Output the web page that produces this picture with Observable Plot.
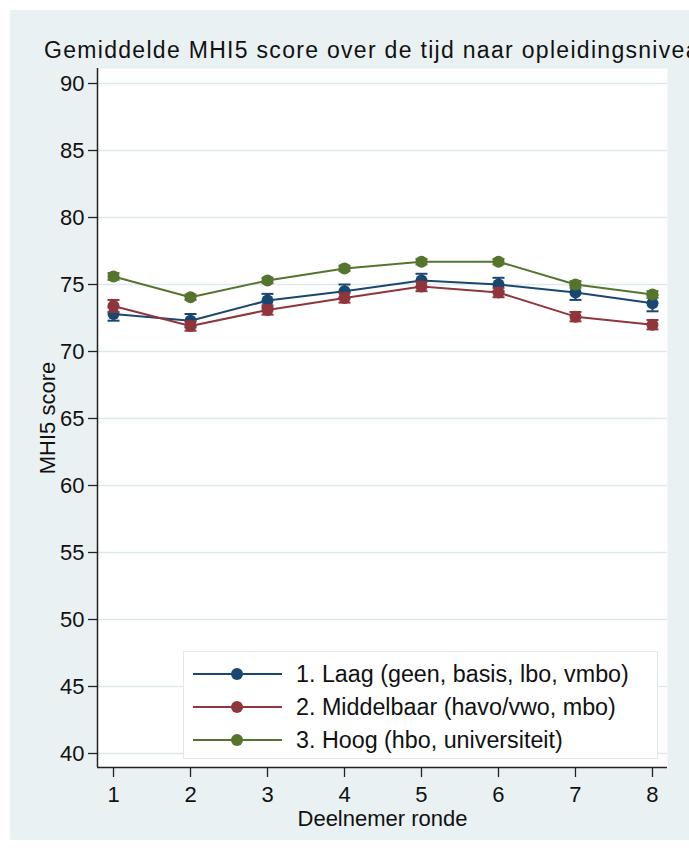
<!DOCTYPE html>
<html><head><meta charset="utf-8">
<script src="https://cdn.jsdelivr.net/npm/d3@7"></script>
<script src="https://cdn.jsdelivr.net/npm/@observablehq/plot@0.6"></script>
<style>
body{margin:0;background:#fff;width:689px;height:852px;overflow:hidden;font-family:"Liberation Sans",Arial,sans-serif;}
#panel{position:absolute;left:10px;top:10px;width:679px;height:830px;background:#eaf1f3;overflow:hidden;}
#title{position:absolute;left:34px;top:27px;font-size:23px;letter-spacing:1.3px;white-space:nowrap;color:#111;}
#chart{position:absolute;left:0;top:50px;}
#legend{position:absolute;left:173px;top:641px;width:473px;height:106px;background:#fff;border:1px solid #e1e9ec;}
.row{position:absolute;left:0;height:30px;display:flex;align-items:center;font-size:23.3px;color:#111;white-space:nowrap;}
.row svg{margin-left:9px;margin-right:14px;}
</style></head>
<body>
<div id="panel">
  <div id="title">Gemiddelde MHI5 score over de tijd naar opleidingsniveau</div>
  <div id="chart"></div>
  <div id="legend"></div>
</div>
<script>
const rounds = [1, 2, 3, 4, 5, 6, 7, 8];
const groups = ["1. Laag (geen, basis, lbo, vmbo)", "2. Middelbaar (havo/vwo, mbo)", "3. Hoog (hbo, universiteit)"];
const colors = ["#1a476f", "#90353b", "#55752f"];
const laag = [72.8, 72.3, 73.8, 74.5, 75.3, 75.0, 74.4, 73.6];
const laagErr = [0.5, 0.5, 0.5, 0.5, 0.5, 0.5, 0.55, 0.6];
const middel = [73.4, 71.9, 73.1, 74.0, 74.85, 74.4, 72.6, 72.0];
const middelErr = [0.45, 0.35, 0.35, 0.35, 0.35, 0.35, 0.35, 0.35];
const hoog = [75.6, 74.05, 75.3, 76.2, 76.7, 76.7, 75.0, 74.25];
const hoogErr = [0.25, 0.2, 0.2, 0.2, 0.2, 0.2, 0.25, 0.25];
const yTicks = [40, 45, 50, 55, 60, 65, 70, 75, 80, 85, 90];
const xDomain = [0.792, 8.195];
const yDomain = [38.955, 91.12];

const series = [laag, middel, hoog];
const errs = [laagErr, middelErr, hoogErr];
const data = [];
series.forEach((vals, g) => vals.forEach((v, i) => data.push({
  round: rounds[i], score: v, lo: v - errs[g][i], hi: v + errs[g][i], group: groups[g]
})));

const cap = {draw(ctx, size) { const w = Math.sqrt(size / Math.PI); ctx.moveTo(-w, 0); ctx.lineTo(w, 0); }};

const perGroup = groups.flatMap(g => {
  const d = data.filter(r => r.group === g);
  return [
    Plot.line(d, {x: "round", y: "score", stroke: "group", strokeWidth: 2}),
    Plot.ruleX(d, {x: "round", y1: "lo", y2: "hi", stroke: "group", strokeWidth: 2}),
    Plot.dot(d, {x: "round", y: "lo", symbol: cap, r: 6, stroke: "group", strokeWidth: 2}),
    Plot.dot(d, {x: "round", y: "hi", symbol: cap, r: 6, stroke: "group", strokeWidth: 2}),
    Plot.dot(d, {x: "round", y: "score", r: 6, fill: "group", stroke: "none"})
  ];
});

const chart = Plot.plot({
  width: 679, height: 780,
  marginLeft: 87, marginRight: 22, marginTop: 8, marginBottom: 73,
  style: {fontFamily: '"Liberation Sans", Arial, sans-serif', fontSize: "22px", color: "#111", background: "transparent", overflow: "visible"},
  x: {domain: xDomain, label: "Deelnemer ronde"},
  y: {domain: yDomain, label: "MHI5 score"},
  color: {domain: groups, range: colors},
  marks: [
    Plot.frame({fill: "white", stroke: "none"}),
    Plot.gridY(yTicks, {stroke: "#dde9ec", strokeOpacity: 1, strokeWidth: 1.5}),
    Plot.axisX(rounds, {tickSize: 10, tickPadding: 9, tickFormat: d => String(d), label: "Deelnemer ronde", labelArrow: "none", labelAnchor: "center", labelOffset: 58, stroke: "#222", strokeWidth: 1.3}),
    Plot.axisY(yTicks, {tickSize: 9, tickPadding: 4, label: "MHI5 score", labelArrow: "none", labelAnchor: "center", labelOffset: 58, stroke: "#222", strokeWidth: 1.3}),
    Plot.ruleX([xDomain[0]], {stroke: "#222", strokeWidth: 1.5}),
    Plot.ruleY([yDomain[0]], {stroke: "#222", strokeWidth: 1.5}),
    ...perGroup
  ]
});
document.getElementById("chart").appendChild(chart);

const legend = document.getElementById("legend");
groups.forEach((g, i) => {
  const row = document.createElement("div");
  row.className = "row";
  row.style.top = (7 + i * 33) + "px";
  row.innerHTML = `<svg width="89" height="14"><line x1="0" x2="89" y1="7" y2="7" stroke="${colors[i]}" stroke-width="2"/><circle cx="44" cy="7" r="6" fill="${colors[i]}"/></svg><span>${g}</span>`;
  legend.appendChild(row);
});
</script>
</body></html>
